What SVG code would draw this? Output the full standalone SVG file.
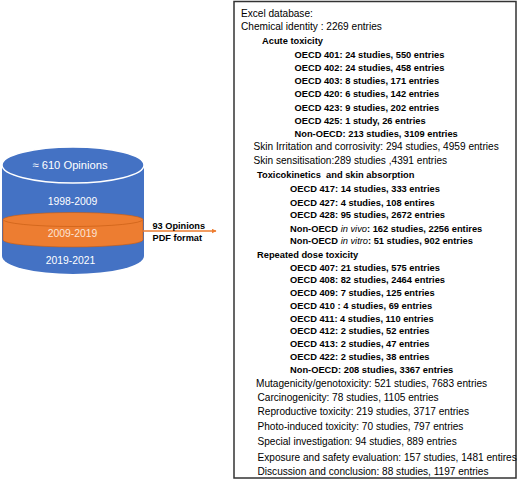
<svg xmlns="http://www.w3.org/2000/svg" width="520" height="482" viewBox="0 0 520 482">
<style>
text{font-family:"Liberation Sans",Arial,sans-serif;fill:#000}
.r{font-size:10.1px}
.b{font-size:9.3px;font-weight:bold}
.i{font-style:italic;font-weight:normal}
.cy{font-size:10.4px;fill:#fff;text-anchor:middle}
.lab{font-size:9.2px;font-weight:bold}
</style>
<defs>
<marker id="ah" viewBox="0 0 10 10" refX="9" refY="5" markerWidth="5" markerHeight="5" markerUnits="userSpaceOnUse" orient="auto">
<path d="M0,0 L10,5 L0,10 Z" fill="#ED7D31"/>
</marker>
</defs>
<rect width="520" height="482" fill="#fff"/>
<g id="cylinder">
<path d="M2,165 L2,256 A71,18 0 0 0 144,256 L144,165 Z" fill="#4472C4"/>
<path d="M3,219.5 L3,240 A70,7 0 0 0 143,240 L143,219.5 Z" fill="#ED7D31" stroke="#C55A11" stroke-width="0.6"/>
<ellipse cx="73" cy="219.5" rx="70" ry="7" fill="#ED7D31" stroke="#C55A11" stroke-width="0.6"/>
<ellipse cx="73" cy="165" rx="71" ry="18" fill="#4472C4" stroke="#fff" stroke-width="1.5"/>
<text class="cy" x="70" y="169" style="font-size:11.2px">≈ 610 Opinions</text>
<text class="cy" x="72.5" y="205">1998-2009</text>
<text class="cy" x="72.5" y="236.5" style="fill:#FCE4D6">2009-2019</text>
<text class="cy" x="70.5" y="264">2019-2021</text>
</g>
<g id="connectors">
<line x1="143" y1="231" x2="216" y2="231" stroke="#ED7D31" stroke-width="1.5" marker-end="url(#ah)"/>
<text class="lab" x="152.5" y="228.5">93 Opinions</text>
<text class="lab" x="152.5" y="241">PDF format</text>
</g>
<g id="database">
<rect x="234" y="1.5" width="282" height="476.5" fill="#fff" stroke="#333" stroke-width="1.5"/>
<text class="r" x="241" y="17.3">Excel database:</text>
<text class="r" x="241" y="29.5">Chemical identity : 2269 entries</text>
<text class="b" x="262" y="43.5">Acute toxicity</text>
<text class="b" x="294.5" y="58">OECD 401: 24 studies, 550 entries</text>
<text class="b" x="294.5" y="71">OECD 402: 24 studies, 458 entries</text>
<text class="b" x="294.5" y="84">OECD 403: 8 studies, 171 entries</text>
<text class="b" x="294.5" y="97">OECD 420: 6 studies, 142 entries</text>
<text class="b" x="294.5" y="110.5">OECD 423: 9 studies, 202 entries</text>
<text class="b" x="294.5" y="123.5">OECD 425: 1 study, 26 entries</text>
<text class="b" x="294.5" y="136.5">Non-OECD: 213 studies, 3109 entries</text>
<text class="r" x="253.5" y="150">Skin Irritation and corrosivity: 294 studies, 4959 entries</text>
<text class="r" x="253.5" y="163.5">Skin sensitisation:289 studies ,4391 entries</text>
<text class="b" x="257" y="177.5" xml:space="preserve">Toxicokinetics  and skin absorption</text>
<text class="b" x="290" y="192">OECD 417: 14 studies, 333 entries</text>
<text class="b" x="290" y="205.5">OECD 427: 4 studies, 108 entires</text>
<text class="b" x="290" y="218">OECD 428: 95 studies, 2672 entries</text>
<text class="b" x="290" y="231.5">Non-OECD <tspan class="i">in vivo</tspan>: 162 studies, 2256 entires</text>
<text class="b" x="290" y="244">Non-OECD <tspan class="i">in vitro</tspan>: 51 studies, 902 entries</text>
<text class="b" x="257" y="257.5">Repeated dose toxicity</text>
<text class="b" x="290" y="270.5">OECD 407: 21 studies, 575 entries</text>
<text class="b" x="290" y="283">OECD 408: 82 studies, 2464 entries</text>
<text class="b" x="290" y="296">OECD 409: 7 studies, 125 entries</text>
<text class="b" x="290" y="309">OECD 410 : 4 studies, 69 entries</text>
<text class="b" x="290" y="321.5">OECD 411: 4 studies, 110 entries</text>
<text class="b" x="290" y="334">OECD 412: 2 studies, 52 entries</text>
<text class="b" x="290" y="347">OECD 413: 2 studies, 47 entries</text>
<text class="b" x="290" y="360">OECD 422: 2 studies, 38 entries</text>
<text class="b" x="290" y="373">Non-OECD: 208 studies, 3367 entries</text>
<text class="r" x="256" y="386.5">Mutagenicity/genotoxicity: 521 studies, 7683 entries</text>
<text class="r" x="257.5" y="401">Carcinogenicity: 78 studies, 1105 entries</text>
<text class="r" x="257.5" y="415">Reproductive toxicity: 219 studies, 3717 entries</text>
<text class="r" x="257.5" y="429.5">Photo-induced toxicity: 70 studies, 797 entries</text>
<text class="r" x="257.5" y="444.5">Special investigation: 94 studies, 889 entries</text>
<text class="r" x="257.5" y="460.5">Exposure and safety evaluation: 157 studies, 1481 entires</text>
<text class="r" x="257.5" y="474.5">Discussion and conclusion: 88 studies, 1197 entries</text>
</g>
</svg>
